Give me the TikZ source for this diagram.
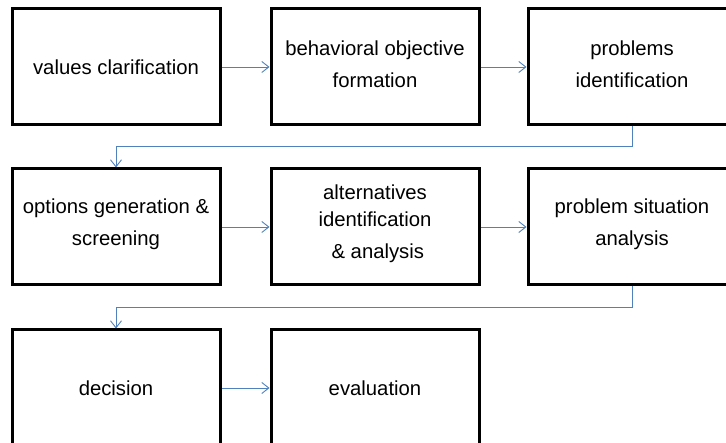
\documentclass[tikz,border=0pt]{standalone}
\usepackage{fontspec}
\setmainfont{Liberation Sans}
\usetikzlibrary{arrows.meta}
\definecolor{connblue}{RGB}{79,129,189}
\begin{document}
\begin{tikzpicture}[x=1pt,y=-1pt,
  stepbox/.style={draw=black, line width=3pt, minimum width=208pt, minimum height=116pt, inner sep=0pt},
  boxtext/.style={align=center, font=\fontsize{20.3}{32}\selectfont, inner sep=0pt},
  conn/.style={draw=connblue, line width=0.9pt, -{Straight Barb[length=7pt,width=11pt]}}]
\useasboundingbox (0,0) rectangle (726,443);
\clip (0,0) rectangle (726,443);
% row 1
\node[stepbox, label={[boxtext]center:values clarification}] (b1) at (116,67) {};
\node[stepbox, label={[boxtext, yshift=3pt]center:{behavioral objective\\formation}}] (b2) at (375,67) {};
\node[stepbox, label={[boxtext, yshift=3pt]center:{problems\\identification}}] (b3) at (632,67) {};
% row 2
\node[stepbox, label={[boxtext, yshift=3pt]center:{options generation \&\\screening}}] (b4) at (116,227) {};
\node[stepbox, label={[boxtext, yshift=3pt]center:{alternatives\\[-5pt]identification\\\ \& analysis}}] (b5) at (375,227) {};
\node[stepbox, label={[boxtext, yshift=3pt]center:{problem situation\\analysis}}] (b6) at (632,227) {};
% row 3
\node[stepbox, label={[boxtext]center:decision}] (b7) at (116,388) {};
\node[stepbox, label={[boxtext]center:evaluation}] (b8) at (375,388) {};
% connectors
\draw[conn] (b1.east) -- (b2.west);
\draw[conn] (b2.east) -- (b3.west);
\draw[conn] (b3.south) -- ++(0,20) -| (b4.north);
\draw[conn] (b4.east) -- (b5.west);
\draw[conn] (b5.east) -- (b6.west);
\draw[conn] (b6.south) -- ++(0,21) -| (b7.north);
\draw[conn] (b7.east) -- (b8.west);
\end{tikzpicture}
\end{document}
